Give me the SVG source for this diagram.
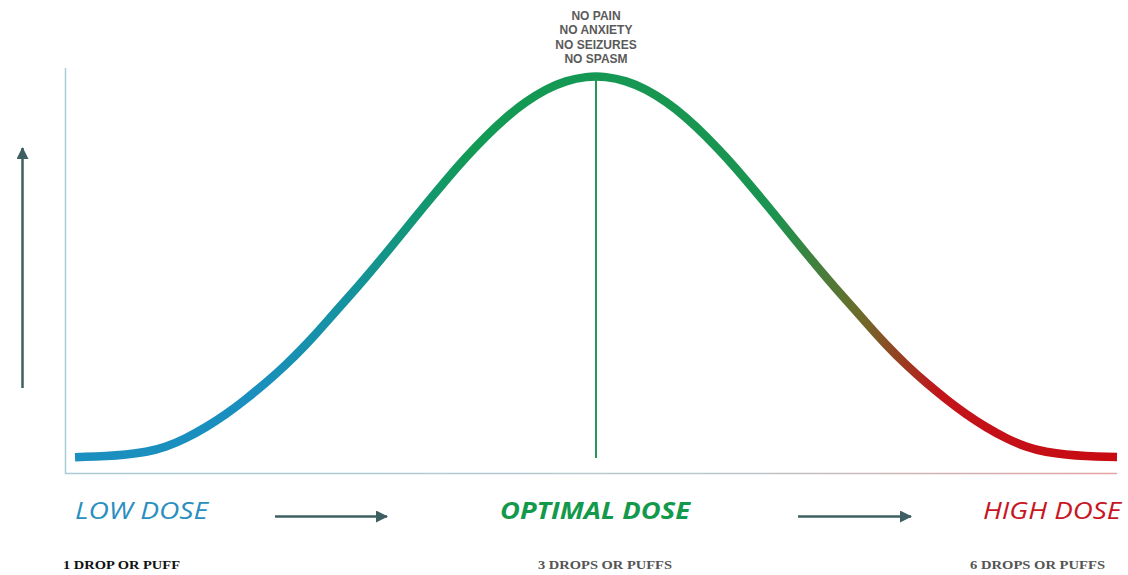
<svg xmlns="http://www.w3.org/2000/svg" width="1128" height="575" viewBox="0 0 1128 575">
<style>
.top{font-family:"Liberation Sans",Arial,sans-serif;font-weight:bold;font-size:12px;fill:#5a5a5a;text-anchor:middle}
.dose{font-family:"Open Sans","Liberation Sans",sans-serif;font-style:italic;font-size:23px}
.sub{font-family:"Liberation Serif","Times New Roman",serif;font-weight:bold;font-size:13px}
.arr{stroke:#3e5f62;stroke-width:2.5;fill:none}
</style>
<defs>
<linearGradient id="curveGrad" gradientUnits="userSpaceOnUse" x1="75" y1="0" x2="1117" y2="0">
<stop offset="0" stop-color="#1b8fbd"/>
<stop offset="0.17" stop-color="#1a8fbf"/>
<stop offset="0.26" stop-color="#1592a0"/>
<stop offset="0.38" stop-color="#129a55"/>
<stop offset="0.67" stop-color="#1a9450"/>
<stop offset="0.755" stop-color="#6e6a2a"/>
<stop offset="0.83" stop-color="#c2141a"/>
<stop offset="1" stop-color="#c80a12"/>
</linearGradient>
<linearGradient id="axisGrad" gradientUnits="userSpaceOnUse" x1="65" y1="0" x2="1117" y2="0">
<stop offset="0" stop-color="#a9ccd5"/>
<stop offset="0.6" stop-color="#b8c8cc"/>
<stop offset="1" stop-color="#e4a2a2"/>
</linearGradient>
<marker id="head" viewBox="0 0 12 12" refX="11" refY="6" markerWidth="12" markerHeight="12" markerUnits="userSpaceOnUse" orient="auto">
<path d="M0,0 L12,6 L0,12 Z" fill="#3e5f62"/>
</marker>
</defs>

<g id="axes">
<line x1="65.5" y1="68" x2="65.5" y2="474" stroke="#a9ccd5" stroke-width="1.5"/>
<line x1="65" y1="473.5" x2="1117" y2="473.5" stroke="url(#axisGrad)" stroke-width="1.5"/>
</g>

<g id="curve">
<path d="M75,457.2 L85.5,456.85 Q96,456.5 106,456 Q116,455.5 126,454.5 Q136,453.5 146,451.75 Q156,450 166,446.5 Q176,443 186,438 Q196,433 206,427 Q216,421 226,414 Q236,407 246,399 Q256,391 266,382.5 Q276,374 286,364.5 Q296,355 306,344.5 Q316,334 326,322.55 Q336,311.1 346,299.95 Q356,288.8 366,277.05 Q376,265.3 386,253.15 Q396,241 406,228.65 Q416,216.3 426,204.15 Q436,192 446,180.2 Q456,168.4 466,157.4 Q476,146.4 486,136.4 Q496,126.4 506,117.7 Q516,109 526,102 Q536,95 546,89.75 Q556,84.5 566,81.35 Q576,78.2 586,77.1 Q596,76 606,77.1 Q616,78.2 626,81.35 Q636,84.5 646,89.75 Q656,95 666,102 Q676,109 686,117.7 Q696,126.4 706,136.4 Q716,146.4 726,157.4 Q736,168.4 746,180.2 Q756,192 766,204.15 Q776,216.3 786,228.65 Q796,241 806,253.15 Q816,265.3 826,277.05 Q836,288.8 846,299.95 Q856,311.1 866,322.55 Q876,334 886,344.5 Q896,355 906,364.5 Q916,374 926,382.5 Q936,391 946,399 Q956,407 966,414 Q976,421 986,427 Q996,433 1006,438 Q1016,443 1026,446.5 Q1036,450 1046,451.75 Q1056,453.5 1066,454.5 Q1076,455.5 1086,456 Q1096,456.5 1106.5,456.85 L1117,457" fill="none" stroke="url(#curveGrad)" stroke-width="8.5" stroke-linejoin="round"/>
</g>

<g id="optimal-line">
<line x1="596" y1="78" x2="596" y2="458" stroke="#1f9a52" stroke-width="2"/>
</g>

<g id="peak-label">
<text class="top" x="596" y="19.5">NO PAIN</text>
<text class="top" x="596" y="34">NO ANXIETY</text>
<text class="top" x="596" y="48.5">NO SEIZURES</text>
<text class="top" x="596" y="63">NO SPASM</text>
</g>

<g id="connectors">
<line class="arr" x1="22.5" y1="388" x2="22.5" y2="148" marker-end="url(#head)"/>
<line class="arr" x1="275" y1="516.5" x2="387" y2="516.5" marker-end="url(#head)"/>
<line class="arr" x1="798" y1="516.5" x2="911" y2="516.5" marker-end="url(#head)"/>
</g>

<g id="low-dose">
<text class="dose" x="75" y="519" fill="#2a8fc0" textLength="133" lengthAdjust="spacingAndGlyphs">LOW DOSE</text>
<text class="sub" x="63" y="569" fill="#111111" textLength="117" lengthAdjust="spacingAndGlyphs">1 DROP OR PUFF</text>
</g>
<g id="optimal-dose">
<text class="dose" x="500" y="519" fill="#13994b" font-weight="bold" textLength="190" lengthAdjust="spacingAndGlyphs">OPTIMAL DOSE</text>
<text class="sub" x="538" y="569" fill="#555555" textLength="134" lengthAdjust="spacingAndGlyphs">3 DROPS OR PUFFS</text>
</g>
<g id="high-dose">
<text class="dose" x="983" y="519" fill="#c8151f" textLength="138" lengthAdjust="spacingAndGlyphs">HIGH DOSE</text>
<text class="sub" x="970" y="569" fill="#555555" textLength="135" lengthAdjust="spacingAndGlyphs">6 DROPS OR PUFFS</text>
</g>
</svg>
